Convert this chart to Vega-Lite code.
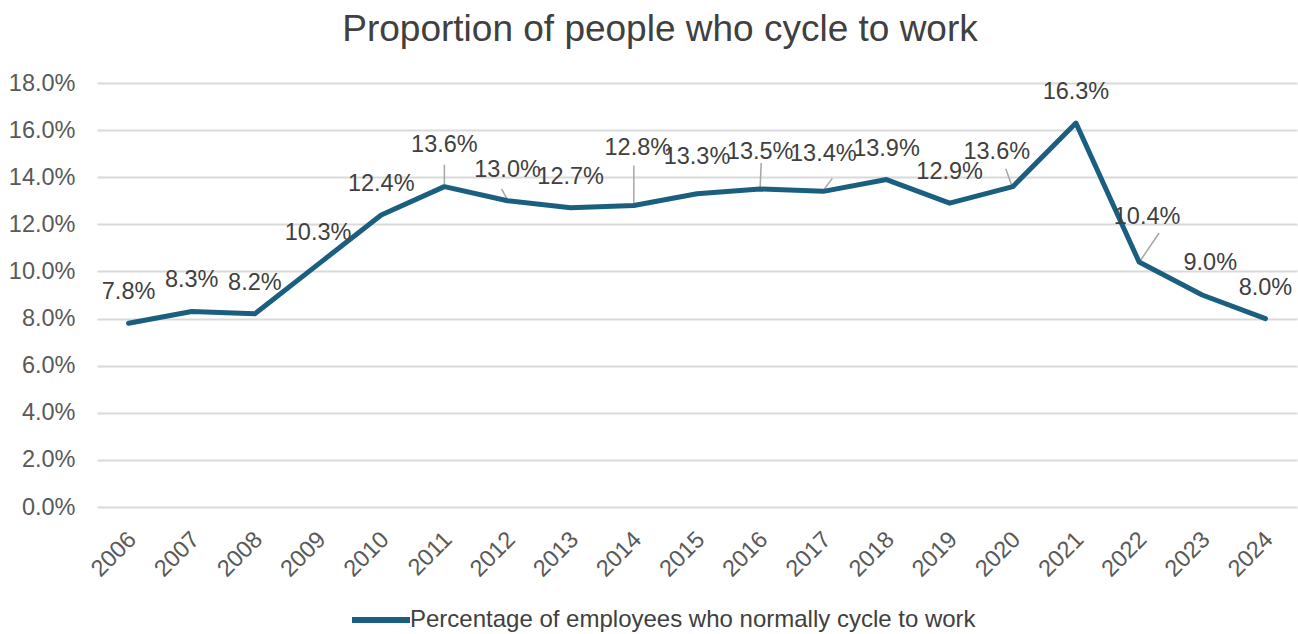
{
  "$schema": "https://vega.github.io/schema/vega-lite/v6.json",
  "autosize": "none",
  "width": 1200,
  "height": 424,
  "padding": {"left": 97, "top": 83, "right": 1, "bottom": 127},
  "background": "white",
  "title": {
    "text": "Proportion of people who cycle to work",
    "font": "Liberation Sans",
    "fontSize": 37,
    "fontWeight": "normal",
    "color": "#404040",
    "anchor": "middle",
    "frame": "group",
    "dx": -37,
    "offset": 22
  },
  "config": {
    "view": {"stroke": null},
    "font": "Liberation Sans"
  },
  "data": {
    "values": [
      {"year": "2006", "value": 0.078},
      {"year": "2007", "value": 0.083},
      {"year": "2008", "value": 0.082},
      {"year": "2009", "value": 0.103},
      {"year": "2010", "value": 0.124},
      {"year": "2011", "value": 0.136},
      {"year": "2012", "value": 0.130},
      {"year": "2013", "value": 0.127},
      {"year": "2014", "value": 0.128},
      {"year": "2015", "value": 0.133},
      {"year": "2016", "value": 0.135},
      {"year": "2017", "value": 0.134},
      {"year": "2018", "value": 0.139},
      {"year": "2019", "value": 0.129},
      {"year": "2020", "value": 0.136},
      {"year": "2021", "value": 0.163},
      {"year": "2022", "value": 0.104},
      {"year": "2023", "value": 0.090},
      {"year": "2024", "value": 0.080}
    ]
  },
  "encoding": {
    "x": {
      "field": "year",
      "type": "ordinal",
      "scale": {"type": "point", "padding": 0.5},
      "axis": {
        "title": null,
        "labelAngle": -45,
        "labelFontSize": 23.5,
        "labelColor": "#595959",
        "labelPadding": 20,
        "labelOffset": -5,
        "ticks": false,
        "domain": false,
        "grid": false
      }
    },
    "y": {
      "field": "value",
      "type": "quantitative",
      "scale": {"domain": [0, 0.18]},
      "axis": {
        "title": null,
        "format": ".1%",
        "values": [0, 0.02, 0.04, 0.06, 0.08, 0.1, 0.12, 0.14, 0.16, 0.18],
        "labelFontSize": 23.5,
        "labelColor": "#595959",
        "labelPadding": 22,
        "ticks": false,
        "domain": false,
        "gridColor": "#d9d9d9",
        "gridWidth": 2
      }
    }
  },
  "layer": [
    {
      "transform": [{"filter": "datum.year == '2011'"}],
      "mark": {"type": "rule", "color": "#a6a6a6", "strokeWidth": 1.5, "yOffset": -2, "y2Offset": -22},
      "encoding": {"y2": {"field": "value"}}
    },
    {
      "transform": [{"filter": "datum.year == '2012'"}],
      "mark": {"type": "rule", "color": "#a6a6a6", "strokeWidth": 1.5, "yOffset": -1, "y2Offset": -12, "x2Offset": -6},
      "encoding": {"x2": {"field": "year"}, "y2": {"field": "value"}}
    },
    {
      "transform": [{"filter": "datum.year == '2014'"}],
      "mark": {"type": "rule", "color": "#a6a6a6", "strokeWidth": 1.5, "yOffset": -2, "y2Offset": -40},
      "encoding": {"y2": {"field": "value"}}
    },
    {
      "transform": [{"filter": "datum.year == '2016'"}],
      "mark": {"type": "rule", "color": "#a6a6a6", "strokeWidth": 1.5, "yOffset": -2, "y2Offset": -26, "x2Offset": 1},
      "encoding": {"x2": {"field": "year"}, "y2": {"field": "value"}}
    },
    {
      "transform": [{"filter": "datum.year == '2017'"}],
      "mark": {"type": "rule", "color": "#a6a6a6", "strokeWidth": 1.5, "yOffset": -1, "y2Offset": -13, "x2Offset": 9},
      "encoding": {"x2": {"field": "year"}, "y2": {"field": "value"}}
    },
    {
      "transform": [{"filter": "datum.year == '2020'"}],
      "mark": {"type": "rule", "color": "#a6a6a6", "strokeWidth": 1.5, "yOffset": -1, "xOffset": -1, "y2Offset": -18, "x2Offset": -7},
      "encoding": {"x2": {"field": "year"}, "y2": {"field": "value"}}
    },
    {
      "transform": [{"filter": "datum.year == '2022'"}],
      "mark": {"type": "rule", "color": "#a6a6a6", "strokeWidth": 1.5, "yOffset": -1, "xOffset": 1, "y2Offset": -29, "x2Offset": 20},
      "encoding": {"x2": {"field": "year"}, "y2": {"field": "value"}}
    },
    {
      "mark": {"type": "line", "strokeWidth": 5, "strokeJoin": "round", "strokeCap": "round"},
      "encoding": {
        "color": {
          "datum": "Percentage of employees who normally cycle to work",
          "type": "nominal",
          "scale": {"range": ["#1a5f80"]},
          "legend": {
            "title": null,
            "orient": "none",
            "legendX": 252,
            "legendY": 505,
            "symbolType": "stroke",
            "symbolSize": 3364,
            "symbolStrokeWidth": 6,
            "labelFontSize": 24,
            "labelColor": "#404040",
            "labelOffset": -3,
            "labelLimit": 800
          }
        }
      }
    },
    {
      "transform": [{"filter": "indexof(['2011','2014','2015','2016','2020','2022','2023','2017'], datum.year) < 0"}],
      "mark": {"type": "text", "dy": -31, "fontSize": 23.5, "color": "#404040"},
      "encoding": {"text": {"field": "value", "type": "quantitative", "format": ".1%"}}
    },
    {
      "transform": [{"filter": "datum.year == '2011'"}],
      "mark": {"type": "text", "dy": -42, "fontSize": 23.5, "color": "#404040"},
      "encoding": {"text": {"field": "value", "type": "quantitative", "format": ".1%"}}
    },
    {
      "transform": [{"filter": "datum.year == '2014'"}],
      "mark": {"type": "text", "dy": -57, "dx": 4, "fontSize": 23.5, "color": "#404040"},
      "encoding": {"text": {"field": "value", "type": "quantitative", "format": ".1%"}}
    },
    {
      "transform": [{"filter": "datum.year == '2015' || datum.year == '2016' || datum.year == '2017'"}],
      "mark": {"type": "text", "dy": -37, "fontSize": 23.5, "color": "#404040"},
      "encoding": {"text": {"field": "value", "type": "quantitative", "format": ".1%"}}
    },
    {
      "transform": [{"filter": "datum.year == '2020'"}],
      "mark": {"type": "text", "dy": -35, "dx": -16, "fontSize": 23.5, "color": "#404040"},
      "encoding": {"text": {"field": "value", "type": "quantitative", "format": ".1%"}}
    },
    {
      "transform": [{"filter": "datum.year == '2022'"}],
      "mark": {"type": "text", "dy": -45, "dx": 8, "fontSize": 23.5, "color": "#404040"},
      "encoding": {"text": {"field": "value", "type": "quantitative", "format": ".1%"}}
    },
    {
      "transform": [{"filter": "datum.year == '2023'"}],
      "mark": {"type": "text", "dy": -32, "dx": 8, "fontSize": 23.5, "color": "#404040"},
      "encoding": {"text": {"field": "value", "type": "quantitative", "format": ".1%"}}
    }
  ]
}
